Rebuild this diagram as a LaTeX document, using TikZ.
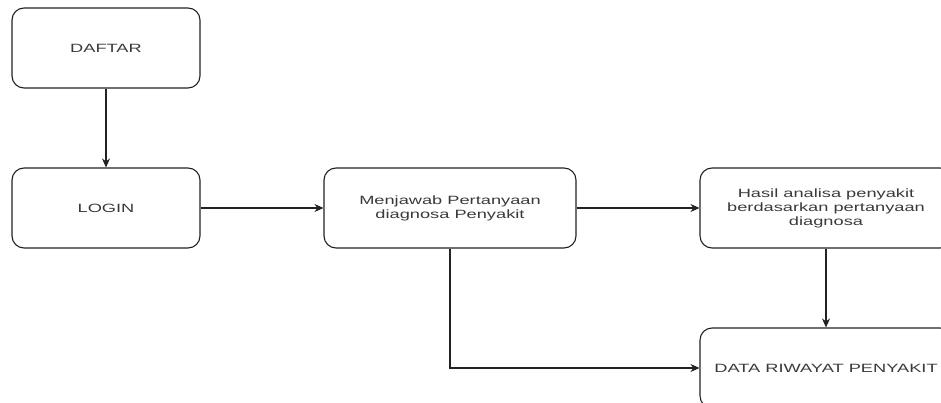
\documentclass[tikz,border=0pt]{standalone}
\usepackage{fontspec}
\setmainfont{Liberation Sans}[FakeStretch=1.52]
\usetikzlibrary{arrows.meta}
\definecolor{txt}{HTML}{3A3A3A}
\definecolor{edge}{HTML}{222222}
\tikzset{
  box/.style={draw=edge, line width=1.1pt, rounded corners=12pt, fill=white,
    inner sep=0pt, align=center, text=txt,
    font=\fontsize{12}{14}\selectfont},
  conn/.style={draw=edge, line width=1.1pt, -{Stealth[length=9pt,width=8pt]}}
}
\begin{document}
\begin{tikzpicture}[x=1pt,y=-1pt]
\useasboundingbox (0,0) rectangle (941,403);
\clip (0,0) rectangle (941,403);
\fill[white] (0,0) rectangle (941,403);
\node[box, minimum width=188pt, minimum height=80pt] (daftar) at (106,48) {DAFTAR};
\node[box, minimum width=188pt, minimum height=80pt] (login) at (106,208) {LOGIN};
\node[box, minimum width=252pt, minimum height=80pt] (jawab) at (450,208) {Menjawab Pertanyaan\\diagnosa Penyakit};
\node[box, minimum width=252pt, minimum height=80pt] (hasil) at (826,208) {Hasil analisa penyakit\\berdasarkan pertanyaan\\diagnosa};
\node[box, minimum width=252pt, minimum height=80pt] (data) at (826,368) {DATA RIWAYAT PENYAKIT};
\draw[conn] (daftar) -- (login);
\draw[conn] (login) -- (jawab);
\draw[conn] (jawab) -- (hasil);
\draw[conn] (hasil) -- (data);
\draw[conn] (jawab.south) |- (data.west);
\end{tikzpicture}
\end{document}
